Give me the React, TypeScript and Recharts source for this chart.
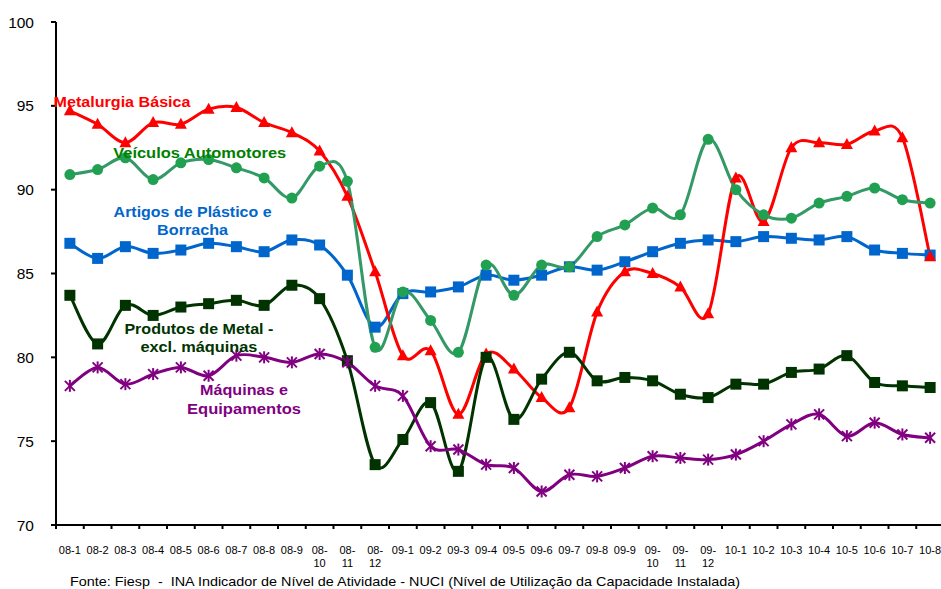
import React from 'react';
import { LineChart, Line, XAxis, YAxis } from 'recharts';

const categories = [
  '08-1', '08-2', '08-3', '08-4', '08-5', '08-6', '08-7', '08-8', '08-9', '08-10', '08-11', '08-12',
  '09-1', '09-2', '09-3', '09-4', '09-5', '09-6', '09-7', '09-8', '09-9', '09-10', '09-11', '09-12',
  '10-1', '10-2', '10-3', '10-4', '10-5', '10-6', '10-7', '10-8',
];

const metalurgia = [94.7, 93.9, 92.8, 94.0, 93.9, 94.8, 94.9, 94.0, 93.4, 92.3, 89.6, 85.1, 80.1, 80.4, 76.6, 80.2, 79.3, 77.6, 77.0, 82.7, 85.1, 85.0, 84.2, 82.6, 90.7, 88.1, 92.5, 92.8, 92.7, 93.5, 93.1, 86.0];
const veiculos = [90.9, 91.2, 91.9, 90.6, 91.6, 91.8, 91.3, 90.7, 89.5, 91.4, 90.5, 80.6, 83.9, 82.2, 80.3, 85.5, 83.7, 85.5, 85.4, 87.2, 87.9, 88.9, 88.5, 93.0, 90.0, 88.5, 88.3, 89.2, 89.6, 90.1, 89.4, 89.2];
const plastico = [86.8, 85.9, 86.6, 86.2, 86.4, 86.8, 86.6, 86.3, 87.0, 86.7, 84.9, 81.8, 83.8, 83.9, 84.2, 84.9, 84.6, 84.9, 85.4, 85.2, 85.7, 86.3, 86.8, 87.0, 86.9, 87.2, 87.1, 87.0, 87.2, 86.4, 86.2, 86.1];
const metal = [83.7, 80.8, 83.1, 82.5, 83.0, 83.2, 83.4, 83.1, 84.3, 83.5, 79.8, 73.6, 75.1, 77.3, 73.2, 80.0, 76.3, 78.7, 80.3, 78.6, 78.8, 78.6, 77.8, 77.6, 78.4, 78.4, 79.1, 79.3, 80.1, 78.5, 78.3, 78.2];
const maquinas = [78.3, 79.4, 78.4, 79.0, 79.4, 78.9, 80.1, 80.0, 79.7, 80.2, 79.7, 78.3, 77.7, 74.7, 74.5, 73.6, 73.4, 72.0, 73.0, 72.9, 73.4, 74.1, 74.0, 73.9, 74.2, 75.0, 76.0, 76.6, 75.3, 76.1, 75.4, 75.2];

const yTicks = [70, 75, 80, 85, 90, 95, 100];

const data = categories.map((c, i) => ({
  cat: c,
  metalurgia: metalurgia[i],
  veiculos: veiculos[i],
  plastico: plastico[i],
  metal: metal[i],
  maquinas: maquinas[i],
}));

const FONT = '"Liberation Sans", Arial, sans-serif';

// Excel-like smoothed line (Catmull-Rom style bezier)
function excelCurve(context: any) {
  let pts: number[][] = [];
  return {
    areaStart() {},
    areaEnd() {},
    lineStart() {
      pts = [];
    },
    point(x: number, y: number) {
      pts.push([+x, +y]);
    },
    lineEnd() {
      const n = pts.length;
      if (!n) return;
      context.moveTo(pts[0][0], pts[0][1]);
      if (n === 1) return;
      for (let i = 0; i < n - 1; i++) {
        const p0 = pts[i === 0 ? 0 : i - 1];
        const p1 = pts[i];
        const p2 = pts[i + 1];
        const p3 = pts[i + 2 < n ? i + 2 : n - 1];
        const c1x = p1[0] + (p2[0] - p0[0]) / 6;
        const c1y = p1[1] + (p2[1] - p0[1]) / 6;
        const c2x = p2[0] - (p3[0] - p1[0]) / 6;
        const c2y = p2[1] - (p3[1] - p1[1]) / 6;
        context.bezierCurveTo(c1x, c1y, c2x, c2y, p2[0], p2[1]);
      }
    },
  };
}

const TriangleDot = (p: any) => {
  const { cx, cy } = p;
  if (cx == null || cy == null) return <g key={`t-${p.index}`} />;
  return (
    <polygon
      key={`t-${p.index}`}
      points={`${cx},${cy - 6.5} ${cx + 6},${cy + 4.5} ${cx - 6},${cy + 4.5}`}
      fill="#FF0000"
    />
  );
};

const CircleDot = (p: any) => {
  const { cx, cy } = p;
  if (cx == null || cy == null) return <g key={`c-${p.index}`} />;
  return <circle key={`c-${p.index}`} cx={cx} cy={cy} r={5.5} fill="#21A052" />;
};

const makeSquare = (color: string, tag: string) => (p: any) => {
  const { cx, cy } = p;
  if (cx == null || cy == null) return <g key={`${tag}-${p.index}`} />;
  return <rect key={`${tag}-${p.index}`} x={cx - 5.5} y={cy - 5.5} width={11} height={11} fill={color} />;
};
const BlueSquare = makeSquare('#0066CC', 'b');
const DarkSquare = makeSquare('#003300', 'd');

const StarDot = (p: any) => {
  const { cx, cy } = p;
  if (cx == null || cy == null) return <g key={`s-${p.index}`} />;
  const r = 5;
  return (
    <g key={`s-${p.index}`} stroke="#800080" strokeWidth={2}>
      <line x1={cx - r} y1={cy - r} x2={cx + r} y2={cy + r} />
      <line x1={cx - r} y1={cy + r} x2={cx + r} y2={cy - r} />
      <line x1={cx} y1={cy - r - 1} x2={cx} y2={cy + r + 1} />
    </g>
  );
};

const XTick = (props: any) => {
  const { x, y, payload, index } = props;
  const half = payload && typeof payload.offset === 'number' && payload.offset > 0 ? payload.offset : 13.875;
  const label = String(payload.value);
  const lines = label.length > 4 ? [label.slice(0, 3), label.slice(3)] : [label];
  const isLast = index === categories.length - 1;
  return (
    <g>
      <line x1={x - half} x2={x - half} y1={y} y2={y + 4} stroke="#000" strokeWidth={2} />
      {isLast && <line x1={x + half} x2={x + half} y1={y} y2={y + 4} stroke="#000" strokeWidth={2} />}
      <text textAnchor="middle" fontSize={11} fontFamily={FONT} fill="#000">
        {lines.map((l, i) => (
          <tspan key={i} x={x} y={y + 29 + i * 13}>
            {l}
          </tspan>
        ))}
      </text>
    </g>
  );
};

const labels = [
  { lines: ['Metalurgia Básica'], color: '#FF0000', x: 122, y: [101.7], w: [137] },
  { lines: ['Veículos Automotores'], color: '#008000', x: 199.7, y: [152.7], w: [173] },
  { lines: ['Artigos de Plástico e', 'Borracha'], color: '#0066CC', x: 192.6, y: [211.7, 229.3], w: [158, 71] },
  { lines: ['Produtos de Metal -', 'excl. máquinas'], color: '#003300', x: 198.9, y: [328.3, 346], w: [149, 117] },
  { lines: ['Máquinas e', 'Equipamentos'], color: '#800080', x: 244, y: [389.3, 408.3], w: [88, 114] },
];

export default function App() {
  return (
    <div
      style={{
        position: 'absolute',
        left: 0,
        top: 0,
        width: 941,
        height: 589,
        overflow: 'hidden',
        background: '#fff',
      }}
    >
      <LineChart width={944} height={589} data={data} margin={{ top: 22, right: 0, left: 0, bottom: 0 }}>
        <XAxis
          dataKey="cat"
          scale="band"
          height={64}
          interval={0}
          tickLine={false}
          tickSize={0}
          tickMargin={0}
          axisLine={{ stroke: '#000', strokeWidth: 2 }}
          tick={<XTick />}
        />
        <YAxis
          domain={[70, 100]}
          ticks={yTicks}
          interval={0}
          width={56}
          allowDataOverflow
          tickSize={5}
          tickMargin={17}
          axisLine={{ stroke: '#000', strokeWidth: 2 }}
          tickLine={{ stroke: '#000', strokeWidth: 2 }}
          tick={{ fontSize: 15.5, fill: '#000', fontFamily: FONT }}
        />
        <Line
          dataKey="plastico"
          type={excelCurve as any}
          stroke="#0066CC"
          strokeWidth={3}
          dot={BlueSquare}
          activeDot={false}
          isAnimationActive={false}
        />
        <Line
          dataKey="metalurgia"
          type={excelCurve as any}
          stroke="#FF0000"
          strokeWidth={3}
          dot={TriangleDot}
          activeDot={false}
          isAnimationActive={false}
        />
        <Line
          dataKey="metal"
          type={excelCurve as any}
          stroke="#003300"
          strokeWidth={3}
          dot={DarkSquare}
          activeDot={false}
          isAnimationActive={false}
        />
        <Line
          dataKey="maquinas"
          type={excelCurve as any}
          stroke="#800080"
          strokeWidth={3}
          dot={StarDot}
          activeDot={false}
          isAnimationActive={false}
        />
        <Line
          dataKey="veiculos"
          type={excelCurve as any}
          stroke="#339966"
          strokeWidth={3}
          dot={CircleDot}
          activeDot={false}
          isAnimationActive={false}
        />
      </LineChart>
      <svg
        width={941}
        height={589}
        style={{ position: 'absolute', left: 0, top: 0, pointerEvents: 'none' }}
      >
        {labels.map((lb, i) => (
          <g key={i}>
            {lb.lines.map((t, j) => (
              <text
                key={j}
                x={lb.x}
                y={lb.y[j] + 5.5}
                textAnchor="middle"
                fontSize={15.5}
                fontWeight="bold"
                fontFamily={FONT}
                fill={lb.color}
                textLength={lb.w[j]}
                lengthAdjust="spacingAndGlyphs"
              >
                {t}
              </text>
            ))}
          </g>
        ))}
        <text
          x={70}
          y={586}
          fontSize={13}
          fontFamily={FONT}
          fill="#000"
          textLength={670}
          lengthAdjust="spacingAndGlyphs"
          style={{ whiteSpace: 'pre' }}
        >
          {'Fonte: Fiesp  -  INA Indicador de Nível de Atividade - NUCI (Nível de Utilização da Capacidade Instalada)'}
        </text>
      </svg>
    </div>
  );
}
